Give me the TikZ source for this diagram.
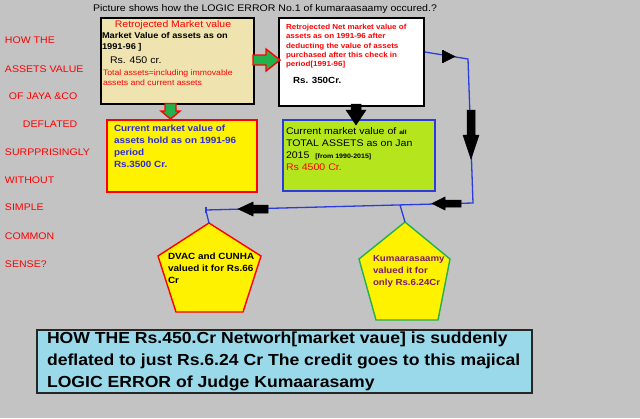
\documentclass[tikz,border=0pt]{standalone}
\usepackage{fontspec}
\setmainfont{Liberation Sans}[FakeStretch=1.1]
\usetikzlibrary{calc}
\definecolor{bgc}{HTML}{C3C3C3}
\definecolor{tanc}{HTML}{EFE4B0}
\definecolor{yelc}{HTML}{FFF200}
\definecolor{limec}{HTML}{B5E61D}
\definecolor{skyc}{HTML}{99D9EA}
\definecolor{grnc}{HTML}{22B14C}
\definecolor{redc}{HTML}{FF0000}
\definecolor{linec}{HTML}{2B3BDD}
\definecolor{txtblue}{HTML}{2A2ADB}
\definecolor{purpc}{HTML}{7B1B6B}
\newcommand\fsz[2]{\fontsize{#1}{#2}\selectfont}
\tikzset{
  txt/.style={inner sep=0pt, outer sep=0pt},
  boxbase/.style={anchor=north west, inner sep=0pt, line width=1.8pt},
  leftword/.style={txt, anchor=base west, text=redc, font=\fsz{9.6}{11}},
  conn/.style={draw=linec, line width=1.3pt},
  greenarrow/.style={fill=grnc, draw=redc, line width=1.4pt, line join=miter},
  blackarrow/.style={fill=black, draw=black, line width=0.5pt},
}
\begin{document}
\begin{tikzpicture}[x=1pt,y=-1pt]
\useasboundingbox (0,0) rectangle (640,418);
\fill[bgc] (0,0) rectangle (640,418);

% title
\node[txt, anchor=base west, font=\fsz{9.6}{11}] (title) at (93,11.5)
  {Picture shows how the LOGIC ERROR No.1 of kumaraasaamy occured.?};

% left column
\node[leftword] (w1) at (5,43.4) {HOW THE};
\node[leftword] (w2) at (5,72.4) {ASSETS VALUE};
\node[leftword] (w3) at (9,99.9) {OF JAYA \&CO};
\node[leftword] (w4) at (23,127.4) {DEFLATED};
\node[leftword] (w5) at (5,155.4) {SURPPRISINGLY};
\node[leftword] (w6) at (5,183.4) {WITHOUT};
\node[leftword] (w7) at (5,210.4) {SIMPLE};
\node[leftword] (w8) at (5,239.4) {COMMON};
\node[leftword] (w9) at (5,267.4) {SENSE?};

% boxes
\node[boxbase, draw=black, fill=tanc, minimum width=153, minimum height=86] (b1) at (100,17) {};
\node[boxbase, draw=black, fill=white, minimum width=145, minimum height=88] (b2) at (278,17) {};
\node[boxbase, draw=redc, fill=yelc, minimum width=150, minimum height=72] (b3) at (106,119) {};
\node[boxbase, draw=linec, fill=limec, minimum width=152, minimum height=71] (b4) at (282,119) {};
\node[boxbase, draw=black!85, fill=skyc, line width=2pt, minimum width=495, minimum height=63] (bot) at (36,329) {};

% box 1 text
\node[txt, anchor=base, text=redc, font=\fsz{9.5}{11}] (b1t) at (173,27.5) {Retrojected Market value};
\node[txt, anchor=north west, align=left, font=\fsz{8.4}{11}\bfseries] (b1a) at (102,32.8)
  {Market Value of assets as on\\1991-96 ]};
\node[txt, anchor=base west, font=\fsz{9.6}{11}] (b1b) at (110,63.6) {Rs. 450 cr.};
\node[txt, anchor=north west, align=left, text=redc, font=\fsz{7.9}{10}] (b1c) at (103,70.1)
  {Total assets=including immovable\\assets and current assets};

% box 2 text
\node[txt, anchor=north west, align=left, text=redc, font=\fsz{7.3}{9.3}\bfseries] (b2a) at (286,24.3)
  {Retrojected Net market value of\\assets as on 1991-96 after\\deducting the value of assets\\purchased after this check in\\period[1991-96]};
\node[txt, anchor=base west, font=\fsz{8.9}{11}\bfseries] (b2b) at (293,83.2) {Rs. 350Cr.};

% box 3 text
\node[txt, anchor=north west, align=left, text=txtblue, font=\fsz{9}{12}\bfseries] (b3a) at (114,124.7)
  {Current market value of\\assets hold as on 1991-96\\period\\Rs.3500 Cr.};

% box 4 text
\node[txt, anchor=north west, align=left, font=\fsz{9.6}{12.2}] (b4a) at (286,127.4)
  {Current market value of {\fsz{6}{7}\bfseries all}\\TOTAL ASSETS as on Jan\\2015 \ {\fsz{6.4}{7}\bfseries [from 1990-2015]}\\\textcolor{redc}{Rs 4500 Cr.}};

% pentagons
\coordinate (p1top) at (209,223);
\coordinate (p2top) at (405,222);
\path[fill=yelc, draw=redc, line width=1.4pt, line join=miter]
  (p1top) -- (261,256) -- (243,312) -- (176,312) -- (158,256) -- cycle;
\path[fill=yelc, draw=grnc, line width=1.4pt, line join=miter]
  (p2top) -- (450,259) -- (438,320) -- (376,320) -- (359,259) -- cycle;
\node[txt, anchor=north west, align=left, font=\fsz{9}{12}\bfseries] (p1t) at (168,252.6)
  {DVAC and CUNHA\\valued it for Rs.66\\Cr};
\node[txt, anchor=north west, align=left, text=purpc, font=\fsz{8.8}{12}\bfseries] (p2t) at (373,255.5)
  {Kumaarasaamy\\valued it for\\only Rs.6.24Cr};

% bottom text
\node[txt, anchor=north west, align=left, font=\fsz{16}{22}\bfseries] (bott) at (47,332.4)
  {HOW THE Rs.450.Cr Networh[market vaue] is suddenly\\deflated to just Rs.6.24 Cr The credit goes to this majical\\LOGIC ERROR of Judge Kumaarasamy};

% connectors
\coordinate (r1) at (468,59);
\coordinate (r2) at (473,203);
\coordinate (l1) at (206,210);
\coordinate (m1) at (400,205);
\draw[conn] ($(b2.north east)+(0,35)$) -- (r1) -- (r2) -- (l1);
\draw[conn] (206,206.5) -- (206,213);
\draw[conn] (206,211) -- (p1top);
\draw[conn] (m1) -- (p2top);

% block arrows
\path[greenarrow] (253,55) -- (266,55) -- (266,49) -- (280,60) -- (266,71) -- (266,65) -- (253,65) -- cycle;
\path[greenarrow] (165,103.5) -- (165,111) -- (161,111) -- (170.5,119) -- (180,111) -- (176,111) -- (176,103.5) -- cycle;
\path[blackarrow] (351,104) -- (351,110) -- (346,110) -- (356,125) -- (366,110) -- (361,110) -- (361,104) -- cycle;
\path[blackarrow] (467,110) -- (467,135) -- (463,135) -- (471,159) -- (479,135) -- (475,135) -- (475,110) -- cycle;
\path[blackarrow] (461,200) -- (445,200) -- (445,197) -- (432,203.5) -- (445,210) -- (445,207) -- (461,207) -- cycle;
\path[blackarrow] (268,205) -- (253,205) -- (253,202) -- (238,209) -- (253,216) -- (253,213) -- (268,213) -- cycle;
\path[blackarrow] (444,51) -- (455,56.5) -- (444,62) -- cycle;
\draw[black, line width=1.2pt] (443,50) -- (443,63);
\end{tikzpicture}
\end{document}
